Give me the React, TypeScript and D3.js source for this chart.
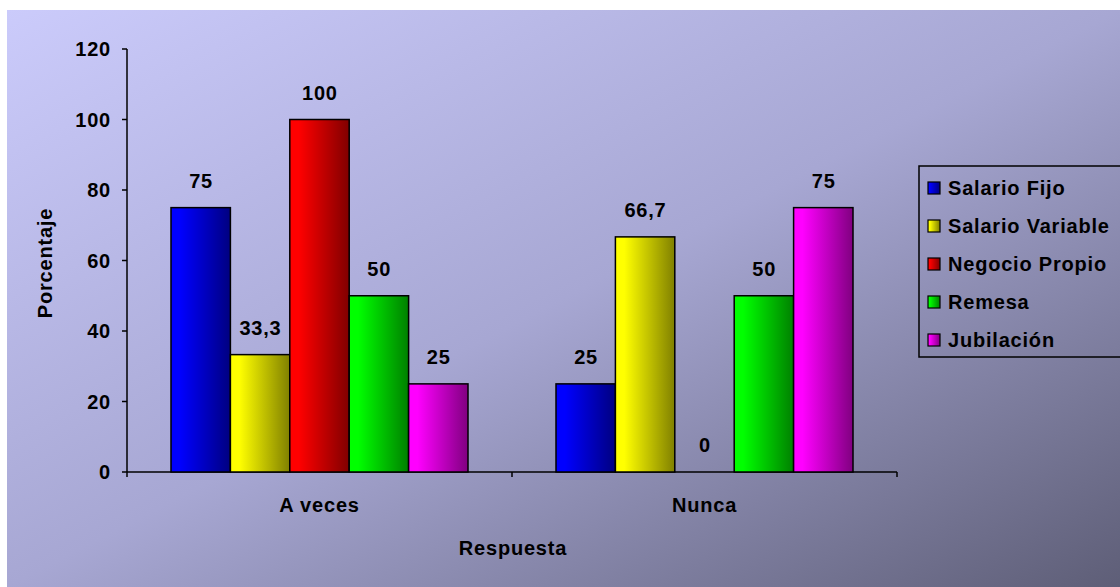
import React from "react";
import * as d3 from "d3";

const categories = ["A veces", "Nunca"];
const seriesNames = ["Salario Fijo", "Salario Variable", "Negocio Propio", "Remesa", "Jubilación"];
const aVeces = [75, 33.3, 100, 50, 25];
const nunca = [25, 66.7, 0, 50, 75];
const yTicks = [0, 20, 40, 60, 80, 100, 120];
const lightColors = ["#0000ff", "#ffff00", "#ff0000", "#00ff00", "#ff00ff"];
const darkColors = ["#000080", "#808000", "#800000", "#008000", "#800080"];

const W = 1120;
const H = 587;
const FONT = "'Liberation Sans', Arial, sans-serif";
const FS = 20;
const LS = 0.8;

export default function App() {
  const values = [aVeces, nunca];
  const x0 = d3.scaleBand<string>().domain(categories).range([127, 897]).paddingInner(0).paddingOuter(0);
  const x1 = d3
    .scaleBand<string>()
    .domain(seriesNames)
    .range([44, x0.bandwidth() - 44]);
  const y = d3.scaleLinear().domain([0, 120]).range([472, 49]);
  const fmt = (v: number) => String(v).replace(".", ",");

  return (
    <svg
      width={W}
      height={H}
      style={{ position: "absolute", left: 0, top: 0, display: "block" }}
    >
      <defs>
        <linearGradient id="bg" x1="0" y1="0" x2="1" y2="1">
          <stop offset="0" stopColor="#cbcbfb" />
          <stop offset="0.5" stopColor="#a7a7d3" />
          <stop offset="1" stopColor="#5e5e77" />
        </linearGradient>
        {lightColors.map((c, i) => (
          <linearGradient key={i} id={`g${i}`} x1="0" y1="0" x2="1" y2="0">
            <stop offset="0" stopColor={c} />
            <stop offset="0.15" stopColor={c} />
            <stop offset="1" stopColor={darkColors[i]} />
          </linearGradient>
        ))}
      </defs>
      <rect x={0} y={0} width={W} height={H} fill="#ffffff" />
      <rect x={7} y={10} width={W - 7} height={H - 10} fill="url(#bg)" />

      {/* y axis */}
      <line x1={127} x2={127} y1={y(120)} y2={y(0)} stroke="#000" strokeWidth={1.5} />
      {yTicks.map((t) => (
        <g key={t}>
          <line x1={122} x2={127} y1={y(t)} y2={y(t)} stroke="#000" strokeWidth={1.5} />
          <text
            x={111}
            y={y(t)}
            dy="0.35em"
            textAnchor="end"
            fontFamily={FONT}
            fontWeight="bold"
            fontSize={FS}
            letterSpacing={LS}
          >
            {t}
          </text>
        </g>
      ))}

      {/* x axis */}
      <line x1={127} x2={897} y1={y(0)} y2={y(0)} stroke="#000" strokeWidth={1.5} />
      {[127, 127 + x0.bandwidth(), 897].map((xx, i) => (
        <line key={i} x1={xx} x2={xx} y1={y(0)} y2={y(0) + 5} stroke="#000" strokeWidth={1.5} />
      ))}

      {/* bars */}
      {categories.map((cat, ci) => (
        <g key={cat} transform={`translate(${x0(cat)},0)`}>
          {seriesNames.map((s, si) => {
            const v = values[ci][si];
            const bx = x1(s)!;
            const bw = x1.bandwidth();
            return (
              <g key={s}>
                {v > 0 && (
                  <rect
                    x={bx}
                    y={y(v)}
                    width={bw}
                    height={y(0) - y(v)}
                    fill={`url(#g${si})`}
                    stroke="#000"
                    strokeWidth={1.5}
                  />
                )}
                <text
                  x={bx + bw / 2 + LS / 2}
                  y={y(v) - 20}
                  textAnchor="middle"
                  fontFamily={FONT}
                  fontWeight="bold"
                  fontSize={FS}
                  letterSpacing={LS}
                >
                  {fmt(v)}
                </text>
              </g>
            );
          })}
          <text
            x={x0.bandwidth() / 2}
            y={512}
            textAnchor="middle"
            fontFamily={FONT}
            fontWeight="bold"
            fontSize={FS}
            letterSpacing={LS}
          >
            {cat}
          </text>
        </g>
      ))}

      {/* axis titles */}
      <text
        x={513}
        y={555}
        textAnchor="middle"
        fontFamily={FONT}
        fontWeight="bold"
        fontSize={FS}
        letterSpacing={LS}
      >
        Respuesta
      </text>
      <text
        transform={`translate(52,263) rotate(-90)`}
        textAnchor="middle"
        fontFamily={FONT}
        fontWeight="bold"
        fontSize={FS}
        letterSpacing={LS}
      >
        Porcentaje
      </text>

      {/* legend */}
      <rect x={919} y={166} width={210} height={191} fill="none" stroke="#000" strokeWidth={1.5} />
      {seriesNames.map((s, i) => (
        <g key={s} transform={`translate(928,${188 + i * 38})`}>
          <rect
            x={0}
            y={-6}
            width={12}
            height={12}
            fill={`url(#g${i})`}
            stroke="#000"
            strokeWidth={1.2}
          />
          <text
            x={20}
            y={0}
            dy="0.35em"
            fontFamily={FONT}
            fontWeight="bold"
            fontSize={FS}
            letterSpacing={LS}
          >
            {s}
          </text>
        </g>
      ))}
    </svg>
  );
}
